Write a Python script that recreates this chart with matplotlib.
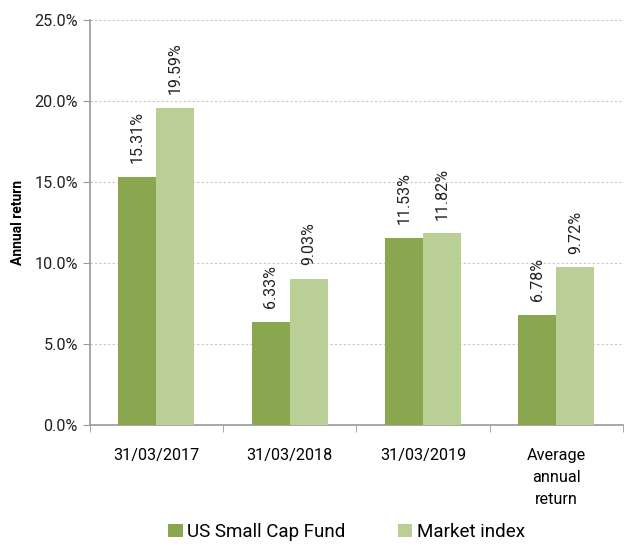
import numpy as np
import matplotlib.pyplot as plt
from matplotlib.ticker import PercentFormatter, FixedLocator

plt.rcParams['font.family'] = ['Roboto', 'DejaVu Sans']

# data
categories = ['31/03/2017', '31/03/2018', '31/03/2019', 'Average\nannual\nreturn']
fund = [15.31, 6.33, 11.53, 6.78]
index = [19.59, 9.03, 11.82, 9.72]

dark = '#8aa64e'
light = '#b9cf96'

fig = plt.figure(figsize=(6.28, 5.46), dpi=100)
ax = fig.add_axes([0.143, 0.222, 0.849, 0.741])

x = np.arange(len(categories))
w = 0.285
b1 = ax.bar(x - w / 2, fund, w, color=dark, label='US Small Cap Fund', zorder=3)
b2 = ax.bar(x + w / 2, index, w, color=light, label='Market index', zorder=3)

# value labels
for bars, vals in [(b1, fund), (b2, index)]:
    for rect, v in zip(bars, vals):
        ax.annotate(f'{v:.2f}%', (rect.get_x() + rect.get_width() / 2, v),
                    xytext=(0, 10), textcoords='offset points',
                    rotation=90, ha='center', va='bottom', fontsize=11.5, color='#222222')

ax.set_xlim(-0.5, 3.5)
ax.set_ylim(0, 25)
ax.set_yticks(np.arange(0, 26, 5))
ax.yaxis.set_major_formatter(PercentFormatter(decimals=1))
ax.set_ylabel('Annual return', fontsize=10, fontweight='bold', labelpad=7)

ax.set_xticks(x)
ax.set_xticklabels(categories, fontsize=11.7, va='top', linespacing=1.55)
ax.tick_params(axis='x', which='major', length=0, pad=17)
ax.xaxis.set_minor_locator(FixedLocator(np.arange(-0.5, 4, 1)))
ax.tick_params(axis='x', which='minor', length=5, color='#999999')
ax.tick_params(axis='y', labelsize=11.7, length=5, color='#999999', labelcolor='#222222')

ax.grid(axis='y', linestyle=(0, (2, 2)), color='#c8c8c8', linewidth=0.8, zorder=0)
for s in ['top', 'right']:
    ax.spines[s].set_visible(False)
for s in ['left', 'bottom']:
    ax.spines[s].set_color('#999999')
    ax.spines[s].set_linewidth(1.2)

fig.legend(handles=[b1, b2], loc='lower center', bbox_to_anchor=(0.552, -0.022), ncol=2,
           frameon=False, fontsize=13.5, handlelength=0.75, handleheight=0.75,
           handletextpad=0.25, columnspacing=2.8)

fig.savefig('out.png', dpi=100)
